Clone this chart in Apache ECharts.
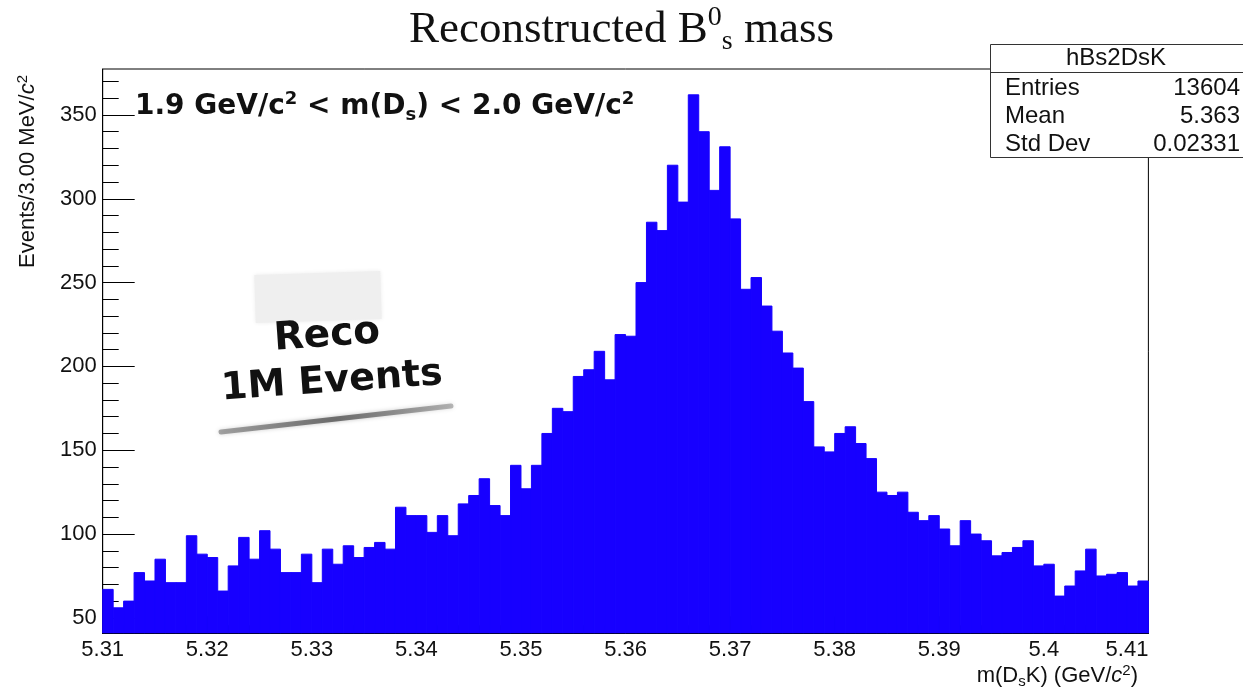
<!DOCTYPE html>
<html>
<head>
<meta charset="utf-8">
<style>
  html, body { margin: 0; padding: 0; background: #fff; }
  #chart { width: 1243px; height: 688px; }
</style>
<script src="https://cdn.jsdelivr.net/npm/echarts@6/dist/echarts.min.js"></script>
</head>
<body>
<div id="chart"></div>
<script>
// 直方图：5.31 - 5.41 GeV，每个 bin 1 MeV
const binStart = 5.31;
const binWidth = 0.001;
const counts = [
  67, 56, 60, 77, 72, 85, 71, 71, 99, 88,
  86, 66, 81, 98, 85, 102, 91, 77, 77, 88,
  71, 91, 82, 93, 86, 92, 95, 91, 116, 111,
  111, 101, 111, 99, 118, 123, 133, 117, 111, 141,
  127, 141, 160, 175, 173, 194, 198, 209, 192, 219,
  218, 250, 286, 281, 320, 298, 362, 340, 305, 331,
  288, 246, 253, 236, 221, 208, 199, 179, 152, 149,
  160, 164, 154, 145, 125, 123, 125, 113, 108, 111,
  103, 93, 108, 100, 96, 87, 89, 92, 96, 81,
  82, 63, 69, 78, 91, 75, 76, 77, 69, 72
];

// 坐标轴刻度
const xTickValues = [5.31, 5.32, 5.33, 5.34, 5.35, 5.36, 5.37, 5.38, 5.39, 5.40, 5.41];
const xTickLabels = ['5.31', '5.32', '5.33', '5.34', '5.35', '5.36', '5.37', '5.38', '5.39', '5.4', '5.41'];
const yTickValues = [50, 100, 150, 200, 250, 300, 350];
const yTickLabels = ['50', '100', '150', '200', '250', '300', '350'];

// 统计框
const statsTitle = 'hBs2DsK';
const statsNames = ['Entries', 'Mean', 'Std Dev'];
const statsValues = ['13604', '5.363', '0.02331'];

const xMin = 5.31, xMax = 5.41;
const yMin = 40.8, yMax = 377.4;
const barColor = '#1700ff';

// 次刻度
const xMinorTicks = [];
for (let i = 0; i <= 50; i++) xMinorTicks.push(Math.round((xMin + i * 0.002) * 1000) / 1000);
const yMinorTicks = [];
for (let v = 50; v <= 370; v += 10) yMinorTicks.push(v);

const chart = echarts.init(document.getElementById('chart'), null, { renderer: 'canvas' });

const sans = 'Liberation Sans, Arial, sans-serif';
const serif = 'Liberation Serif, Times New Roman, serif';
const heavy = 'DejaVu Sans, sans-serif';

const histData = counts.map((c, i) => [binStart + i * binWidth, c]);

const option = {
  backgroundColor: '#fff',
  animation: false,
  grid: {
    left: 102.7,
    right: 94.6,
    top: 69,
    bottom: 54.7,
    show: true,
    borderColor: '#000',
    borderWidth: 1,
    outerBoundsMode: 'none'
  },
  xAxis: [{
    type: 'value',
    min: xMin,
    max: xMax,
    axisLine: { show: true, lineStyle: { color: '#000', width: 1 } },
    axisTick: { show: true, inside: true, length: 17, customValues: xTickValues, lineStyle: { color: '#000' } },
    axisLabel: {
      customValues: xTickValues,
      formatter: (v) => xTickLabels[xTickValues.findIndex(t => Math.abs(t - v) < 1e-6)],
      fontSize: 22, fontFamily: sans, color: '#111', margin: 6,
      alignMaxLabel: 'right'
    },
    splitLine: { show: false }
  }, {
    type: 'value',
    min: xMin,
    max: xMax,
    position: 'bottom',
    axisLine: { show: false },
    axisTick: { show: true, inside: true, length: 8, customValues: xMinorTicks, lineStyle: { color: '#000' } },
    axisLabel: { show: false },
    splitLine: { show: false }
  }],
  yAxis: [{
    type: 'value',
    min: yMin,
    max: yMax,
    axisLine: { show: true, lineStyle: { color: '#000', width: 1 } },
    axisTick: { show: true, inside: true, length: 32, customValues: yTickValues, lineStyle: { color: '#000' } },
    axisLabel: {
      customValues: yTickValues,
      formatter: (v) => yTickLabels[yTickValues.indexOf(Math.round(v))],
      fontSize: 22, fontFamily: sans, color: '#111', margin: 6
    },
    splitLine: { show: false }
  }, {
    type: 'value',
    min: yMin,
    max: yMax,
    position: 'left',
    axisLine: { show: false },
    axisTick: { show: true, inside: true, length: 16, customValues: yMinorTicks, lineStyle: { color: '#000' } },
    axisLabel: { show: false },
    splitLine: { show: false }
  }],
  series: [{
    type: 'custom',
    xAxisIndex: 0,
    yAxisIndex: 0,
    clip: true,
    data: histData,
    encode: { x: 0, y: 1 },
    renderItem: function (params, api) {
      const lo = api.value(0);
      const top = api.coord([lo, api.value(1)]);
      const bottom = api.coord([lo + binWidth, yMin]);
      return {
        type: 'rect',
        shape: { x: top[0], y: top[1], width: bottom[0] - top[0], height: bottom[1] - top[1] },
        style: { fill: barColor, stroke: barColor, lineWidth: 1 }
      };
    }
  }],
  graphic: [
    // 标题
    {
      type: 'text', left: 'center', top: 4, z: 10,
      style: {
        text: '{t|Reconstructed B}{sup|0}{sub|s}{t| mass}',
        rich: {
          t: { fontFamily: serif, fontSize: 45, fill: '#111', lineHeight: 52 },
          sup: { fontFamily: serif, fontSize: 28, fill: '#111', verticalAlign: 'top', lineHeight: 38 },
          sub: { fontFamily: serif, fontSize: 28, fill: '#111', verticalAlign: 'bottom', lineHeight: 30 }
        }
      }
    },
    // 质量窗口说明
    {
      type: 'text', x: 135, y: 107, z: 10,
      style: {
        text: '{b|1.9 GeV/c}{sup|2}{b| < m(D}{sub|s}{b|) < 2.0 GeV/c}{sup|2}',
        verticalAlign: 'middle',
        rich: {
          b: { fontFamily: heavy, fontWeight: 'bold', fontSize: 28, fill: '#111', lineHeight: 34 },
          sup: { fontFamily: heavy, fontWeight: 'bold', fontSize: 18, fill: '#111', verticalAlign: 'top', lineHeight: 34 },
          sub: { fontFamily: heavy, fontWeight: 'bold', fontSize: 18, fill: '#111', verticalAlign: 'bottom', lineHeight: 18 }
        }
      }
    },
    // 贴纸
    {
      type: 'rect', x: 318, y: 297, rotation: 0.03, z: 5,
      shape: { x: -63, y: -24, width: 126, height: 48 },
      style: { fill: '#efefef', shadowBlur: 4, shadowColor: 'rgba(0,0,0,0.08)' }
    },
    {
      type: 'text', x: 327, y: 336, rotation: 0.07, z: 10,
      style: { text: 'Reco', fontFamily: heavy, fontWeight: 'bold', fontSize: 39, fill: '#111', align: 'center', verticalAlign: 'middle' }
    },
    {
      type: 'text', x: 332, y: 382, rotation: 0.07, z: 10,
      style: { text: '1M Events', fontFamily: heavy, fontWeight: 'bold', fontSize: 38, fill: '#111', align: 'center', verticalAlign: 'middle' }
    },
    {
      type: 'line', z: 5,
      shape: { x1: 221, y1: 432, x2: 451, y2: 406 },
      style: {
        stroke: new echarts.graphic.LinearGradient(0, 0, 1, 0, [
          { offset: 0, color: 'rgba(90,90,90,0.5)' },
          { offset: 0.5, color: 'rgba(90,90,90,0.85)' },
          { offset: 1, color: 'rgba(90,90,90,0.4)' }
        ]),
        lineWidth: 5, lineCap: 'round', shadowBlur: 4, shadowColor: 'rgba(0,0,0,0.3)'
      }
    },
    // y 轴标题
    {
      type: 'text', x: 28, y: 75, rotation: Math.PI / 2, z: 10,
      style: {
        text: '{n|Events/3.00 MeV/}{i|c}{sup|2}',
        align: 'right', verticalAlign: 'middle',
        rich: {
          n: { fontFamily: sans, fontSize: 22, fill: '#111', lineHeight: 26 },
          i: { fontFamily: sans, fontStyle: 'italic', fontSize: 22, fill: '#111', lineHeight: 26 },
          sup: { fontFamily: sans, fontSize: 15, fill: '#111', verticalAlign: 'top', lineHeight: 26 }
        }
      }
    },
    // x 轴标题
    {
      type: 'text', x: 1138, y: 676, z: 10,
      style: {
        text: '{n|m(D}{sub|s}{n|K) (GeV/}{i|c}{sup|2}{n|)}',
        align: 'right', verticalAlign: 'middle',
        rich: {
          n: { fontFamily: sans, fontSize: 22, fill: '#111', lineHeight: 26 },
          i: { fontFamily: sans, fontStyle: 'italic', fontSize: 22, fill: '#111', lineHeight: 26 },
          sup: { fontFamily: sans, fontSize: 15, fill: '#111', verticalAlign: 'top', lineHeight: 26 },
          sub: { fontFamily: sans, fontSize: 15, fill: '#111', verticalAlign: 'bottom', lineHeight: 26 }
        }
      }
    },
    // 统计框
    {
      type: 'group', z: 20,
      children: [
        {
          type: 'rect',
          shape: { x: 990.5, y: 44.5, width: 270, height: 113 },
          style: { fill: '#fff', stroke: '#333', lineWidth: 1 }
        },
        {
          type: 'line',
          shape: { x1: 990.5, y1: 72.5, x2: 1243, y2: 72.5 },
          style: { stroke: '#333', lineWidth: 1 }
        },
        {
          type: 'text', x: 1116, y: 58,
          style: { text: statsTitle, fontFamily: sans, fontSize: 24, fill: '#111', align: 'center', verticalAlign: 'middle' }
        }
      ].concat(statsNames.map((name, i) => ({
        type: 'text', x: 1005, y: 88 + i * 28,
        style: { text: name, fontFamily: sans, fontSize: 24, fill: '#111', align: 'left', verticalAlign: 'middle' }
      }))).concat(statsValues.map((val, i) => ({
        type: 'text', x: 1240, y: 88 + i * 28,
        style: { text: val, fontFamily: sans, fontSize: 24, fill: '#111', align: 'right', verticalAlign: 'middle' }
      })))
    }
  ]
};

chart.setOption(option);
</script>
</body>
</html>
